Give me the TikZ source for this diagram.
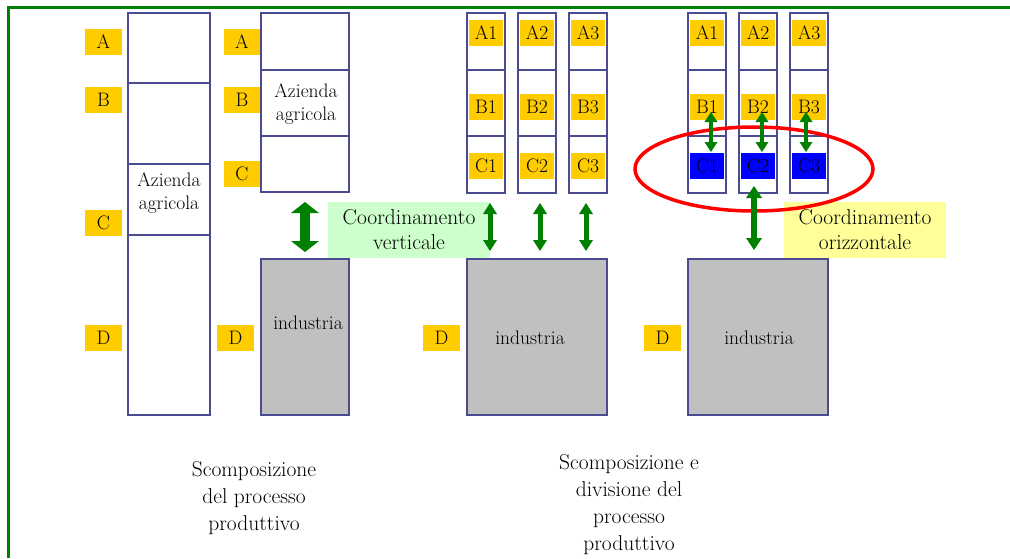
\documentclass[tikz,border=0pt]{standalone}
\usetikzlibrary{arrows.meta,calc,shapes.geometric}
\definecolor{bord}{RGB}{75,75,145}
\definecolor{lab}{RGB}{255,204,0}
\definecolor{ind}{RGB}{192,192,192}
\definecolor{grn}{RGB}{0,128,0}
\definecolor{lgreen}{RGB}{204,255,204}
\definecolor{lyellow}{RGB}{255,255,153}
\definecolor{blu}{RGB}{0,0,255}
\definecolor{ringred}{RGB}{255,0,0}
\begin{document}
\begin{tikzpicture}[x=1pt,y=-1pt,
  every node/.style={font=\fontsize{19.5}{23}\selectfont, inner sep=0pt, outer sep=0pt},
  cell/.style={draw=bord, line width=2.5pt, fill=white},
  indbox/.style={draw=bord, line width=2.5pt, fill=ind, minimum width=140pt, minimum height=156pt},
  lbl/.style={fill=lab, minimum width=37pt, minimum height=26pt},
  slbl/.style={fill=lab, minimum width=34pt, minimum height=26pt},
  blbl/.style={fill=blu, minimum width=34pt, minimum height=26pt},
  bigarr/.style={draw=grn, line width=10pt, {Triangle[width=28pt,length=11pt,line width=0pt]}-{Triangle[width=28pt,length=11pt,line width=0pt]}},
  arr/.style={draw=grn, line width=5pt, {Triangle[width=14pt,length=11pt,line width=0pt]}-{Triangle[width=14pt,length=11pt,line width=0pt]}},
  sarr/.style={draw=grn, line width=4.5pt, {Triangle[width=13pt,length=10pt,line width=0pt]}-{Triangle[width=13pt,length=10pt,line width=0pt]}},
  coord/.style={minimum width=162pt, minimum height=56pt, align=center, font=\fontsize{21.5}{25}\selectfont},
  caption/.style={align=center, font=\fontsize{21.5}{27}\selectfont}
]
\useasboundingbox (0,0) rectangle (1010,558);
% frame
\draw[grn, line width=3pt] (8.5,558) -- (8.5,7.5) -- (1010,7.5);

% column 1
\node[cell, minimum width=82pt, minimum height=70pt] (c1a) at (169,48) {};
\node[cell, minimum width=82pt, minimum height=81pt] (c1b) at (169,123.5) {};
\node[cell, minimum width=82pt, minimum height=71pt] (c1c) at (169,199.5) {};
\node[cell, minimum width=82pt, minimum height=180pt] (c1d) at (169,325) {};
\node[align=center] (t1) at (169,193) {Azienda\\agricola};
\node[lbl] (l1a) at (103.5,42) {A};
\node[lbl] (l1b) at (103.5,100) {B};
\node[lbl] (l1c) at (103.5,223) {C};
\node[lbl] (l1d) at (103.5,338) {D};

% column 2
\node[cell, minimum width=88pt, minimum height=57pt] (c2a) at (305,41.5) {};
\node[cell, minimum width=88pt, minimum height=66pt] (c2b) at (305,103) {};
\node[cell, minimum width=88pt, minimum height=56pt] (c2c) at (305,164) {};
\node[align=center] (t2) at (306,104) {Azienda\\agricola};
\node[indbox, minimum width=88pt] (i1) at (305,337) {};
\node (ti1) at (308,323) {industria};
\node[lbl, minimum width=36pt] (l2a) at (242,42) {A};
\node[lbl, minimum width=36pt] (l2b) at (242,100) {B};
\node[lbl, minimum width=36pt] (l2c) at (242,174) {C};
\node[lbl] (l2d) at (235.5,338) {D};

% middle group
\foreach \n/\x in {1/486,2/537,3/588}{
  \node[cell, minimum width=38pt, minimum height=57pt] (m\n a) at (\x,41.5) {};
  \node[cell, minimum width=38pt, minimum height=66pt] (m\n b) at (\x,103) {};
  \node[cell, minimum width=38pt, minimum height=57pt] (m\n c) at (\x,164.5) {};
  \node[slbl] (mA\n) at (\x,33) {A\n};
  \node[slbl] (mB\n) at (\x,107) {B\n};
  \node[slbl] (mC\n) at (\x,166) {C\n};
}
\node[indbox] (i2) at (537,337) {};
\node (ti2) at (530,338) {industria};
\node[lbl] (l3d) at (441.5,338) {D};

% right group
\foreach \n/\x in {1/707,2/758,3/809}{
  \node[cell, minimum width=38pt, minimum height=57pt] (r\n a) at (\x,41.5) {};
  \node[cell, minimum width=38pt, minimum height=66pt] (r\n b) at (\x,103) {};
  \node[cell, minimum width=38pt, minimum height=57pt] (r\n c) at (\x,164.5) {};
  \node[slbl] (rA\n) at (\x,33) {A\n};
  \node[slbl] (rB\n) at (\x,107) {B\n};
  \node[blbl] (rC\n) at (\x,166) {C\n};
}
\node[indbox] (i3) at (758,337) {};
\node (ti3) at (759,338) {industria};
\node[lbl] (l4d) at (662.5,338) {D};

% coordination boxes
\node[coord, fill=lgreen] (cv) at (409,230) {Coordinamento\\verticale};
\node[coord, fill=lyellow] (co) at (865,230) {Coordinamento\\orizzontale};

% ring
\node[draw=ringred, line width=3.5pt, ellipse, minimum width=238pt, minimum height=84pt] (ring) at (754,169) {};

% arrows
\draw[bigarr] ($(c2c.south)+(0,10)$) -- ($(i1.north)+(0,-7)$);
\draw[arr] ($(m1c.south)+(4,10)$) -- ($(m1c.south|-i2.north)+(4,-8)$);
\draw[arr] ($(m2c.south)+(3,10)$) -- ($(m2c.south|-i2.north)+(3,-8)$);
\draw[arr] ($(m3c.south)+(-2,10)$) -- ($(m3c.south|-i2.north)+(-2,-8)$);
\draw[sarr] ($(rB1.center)+(4,5)$) -- ($(rC1.north)+(4,-1)$);
\draw[sarr] ($(rB2.center)+(4,5)$) -- ($(rC2.north)+(4,-1)$);
\draw[sarr] ($(rB3.center)+(-3,5)$) -- ($(rC3.north)+(-3,-1)$);
\draw[arr, line width=6pt, {Triangle[width=16pt,length=12pt,line width=0pt]}-{Triangle[width=16pt,length=12pt,line width=0pt]}] ($(r2c.south)+(-4,-7)$) -- ($(i3.north)+(-4,-9)$);

% captions
\node[caption] (cap1) at (254,498) {Scomposizione\\del processo\\produttivo};
\node[caption] (cap2) at (629,505) {Scomposizione e\\divisione del\\processo\\produttivo};
\end{tikzpicture}
\end{document}
